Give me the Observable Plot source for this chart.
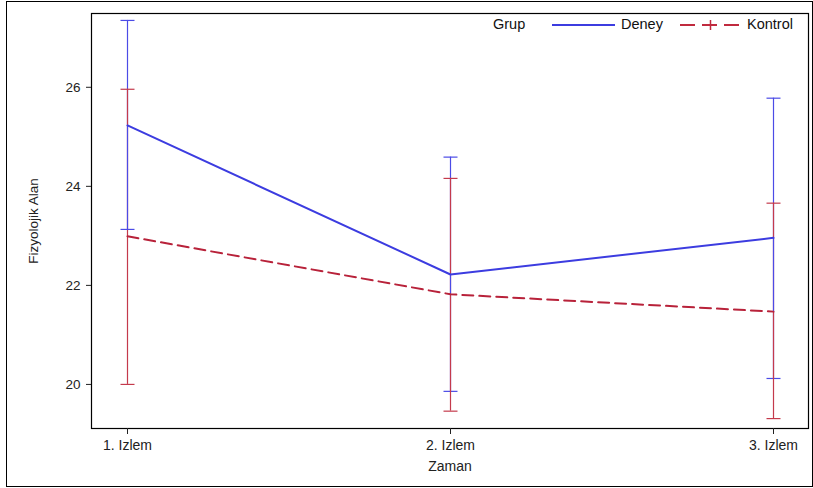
<!DOCTYPE html>
<html>
<head>
<meta charset="utf-8">
<script src="https://cdn.jsdelivr.net/npm/d3@7"></script>
<script src="https://cdn.jsdelivr.net/npm/@observablehq/plot@0.6"></script>
<style>
  html, body { margin: 0; padding: 0; background: #fff; }
  #wrap { position: relative; width: 813px; height: 488px; font-family: "Liberation Sans", Arial, sans-serif; }
  #outer { position: absolute; left: 6px; top: 1px; width: 805px; height: 484px; border: 1.5px solid #000; pointer-events: none; }
  #legend { position: absolute; top: 16px; left: 493px; height: 18px; font-size: 14.5px; color: #111; white-space: nowrap; }
  #legend span, #legend svg { position: absolute; top: 0; }
</style>
</head>
<body>
<div id="wrap">
  <div id="chart"></div>
  <div id="outer"></div>
  <div id="legend">
    <span style="left:0px;">Grup</span>
    <svg style="left:59px;top:2px" width="64" height="14"><line x1="0" x2="63" y1="7" y2="7" stroke="#3c3ce0" stroke-width="2"/></svg>
    <span style="left:128px;">Deney</span>
    <svg style="left:187px;top:2px" width="62" height="14">
      <line x1="0" x2="61" y1="7" y2="7" stroke="#c02a3e" stroke-width="2" stroke-dasharray="15,7"/>
      <line x1="30.5" x2="30.5" y1="2" y2="12" stroke="#c02a3e" stroke-width="1.5"/>
    </svg>
    <span style="left:254px;">Kontrol</span>
  </div>
</div>
<script>
const times = ["1. Izlem", "2. Izlem", "3. Izlem"];
const groups = ["Deney", "Kontrol"];
const deneyMean  = [25.23, 22.22, 22.96];
const deneyLower = [23.13, 19.86, 20.12];
const deneyUpper = [27.35, 24.59, 25.78];
const kontrolMean  = [22.99, 21.82, 21.47];
const kontrolLower = [20.00, 19.46, 19.31];
const kontrolUpper = [25.96, 24.16, 23.66];
const yTicks = [20, 22, 24, 26];

const deney = times.map((t, i) => ({time: t, group: groups[0], mean: deneyMean[i], lower: deneyLower[i], upper: deneyUpper[i]}));
const kontrol = times.map((t, i) => ({time: t, group: groups[1], mean: kontrolMean[i], lower: kontrolLower[i], upper: kontrolUpper[i]}));

const blueLine = "#3c3ce0", blueBar = "#4b4be6";
const redLine = "#b8223a", redBar = "#c43a4c";

const cap = {draw(ctx, size) { ctx.moveTo(-7, 0); ctx.lineTo(7, 0); }};

function bars(data, color, which) {
  return [
    Plot.ruleX(data, {x: "time", y1: "mean", y2: which, stroke: color, strokeWidth: 1.2}),
    Plot.dot(data, {x: "time", y: which, symbol: cap, fill: "none", stroke: color, strokeWidth: 1.2, r: 4})
  ];
}

const chart = Plot.plot({
  width: 813,
  height: 488,
  marginLeft: 91,
  marginRight: 5,
  marginTop: 13,
  marginBottom: 60,
  style: {fontFamily: "'Liberation Sans', Arial, sans-serif", fontSize: "13.5px", color: "#222", background: "transparent"},
  x: {type: "point", domain: times, padding: 0.108},
  y: {domain: [19.11, 27.49]},
  marks: [
    ...bars(deney, blueBar, "upper"),
    ...bars(kontrol, redBar, "upper"),
    ...bars(deney, blueBar, "lower"),
    ...bars(kontrol, redBar, "lower"),
    Plot.line(kontrol, {x: "time", y: "mean", stroke: redLine, strokeWidth: 2, strokeDasharray: "11,6"}),
    Plot.line(deney, {x: "time", y: "mean", stroke: blueLine, strokeWidth: 2}),
    Plot.frame({stroke: "#000", strokeWidth: 1.2}),
    Plot.axisY(yTicks, {tickSize: 5, tickPadding: 6, tickFormat: d3.format("d"), label: "Fizyolojik Alan", labelAnchor: "center", labelOffset: 63, labelArrow: "none"}),
    Plot.axisX({tickSize: 6, tickPadding: 6, label: "Zaman", labelAnchor: "center", labelOffset: 42, labelArrow: "none", fontSize: "14px"})
  ]
});
document.getElementById("chart").appendChild(chart);
</script>
</body>
</html>
